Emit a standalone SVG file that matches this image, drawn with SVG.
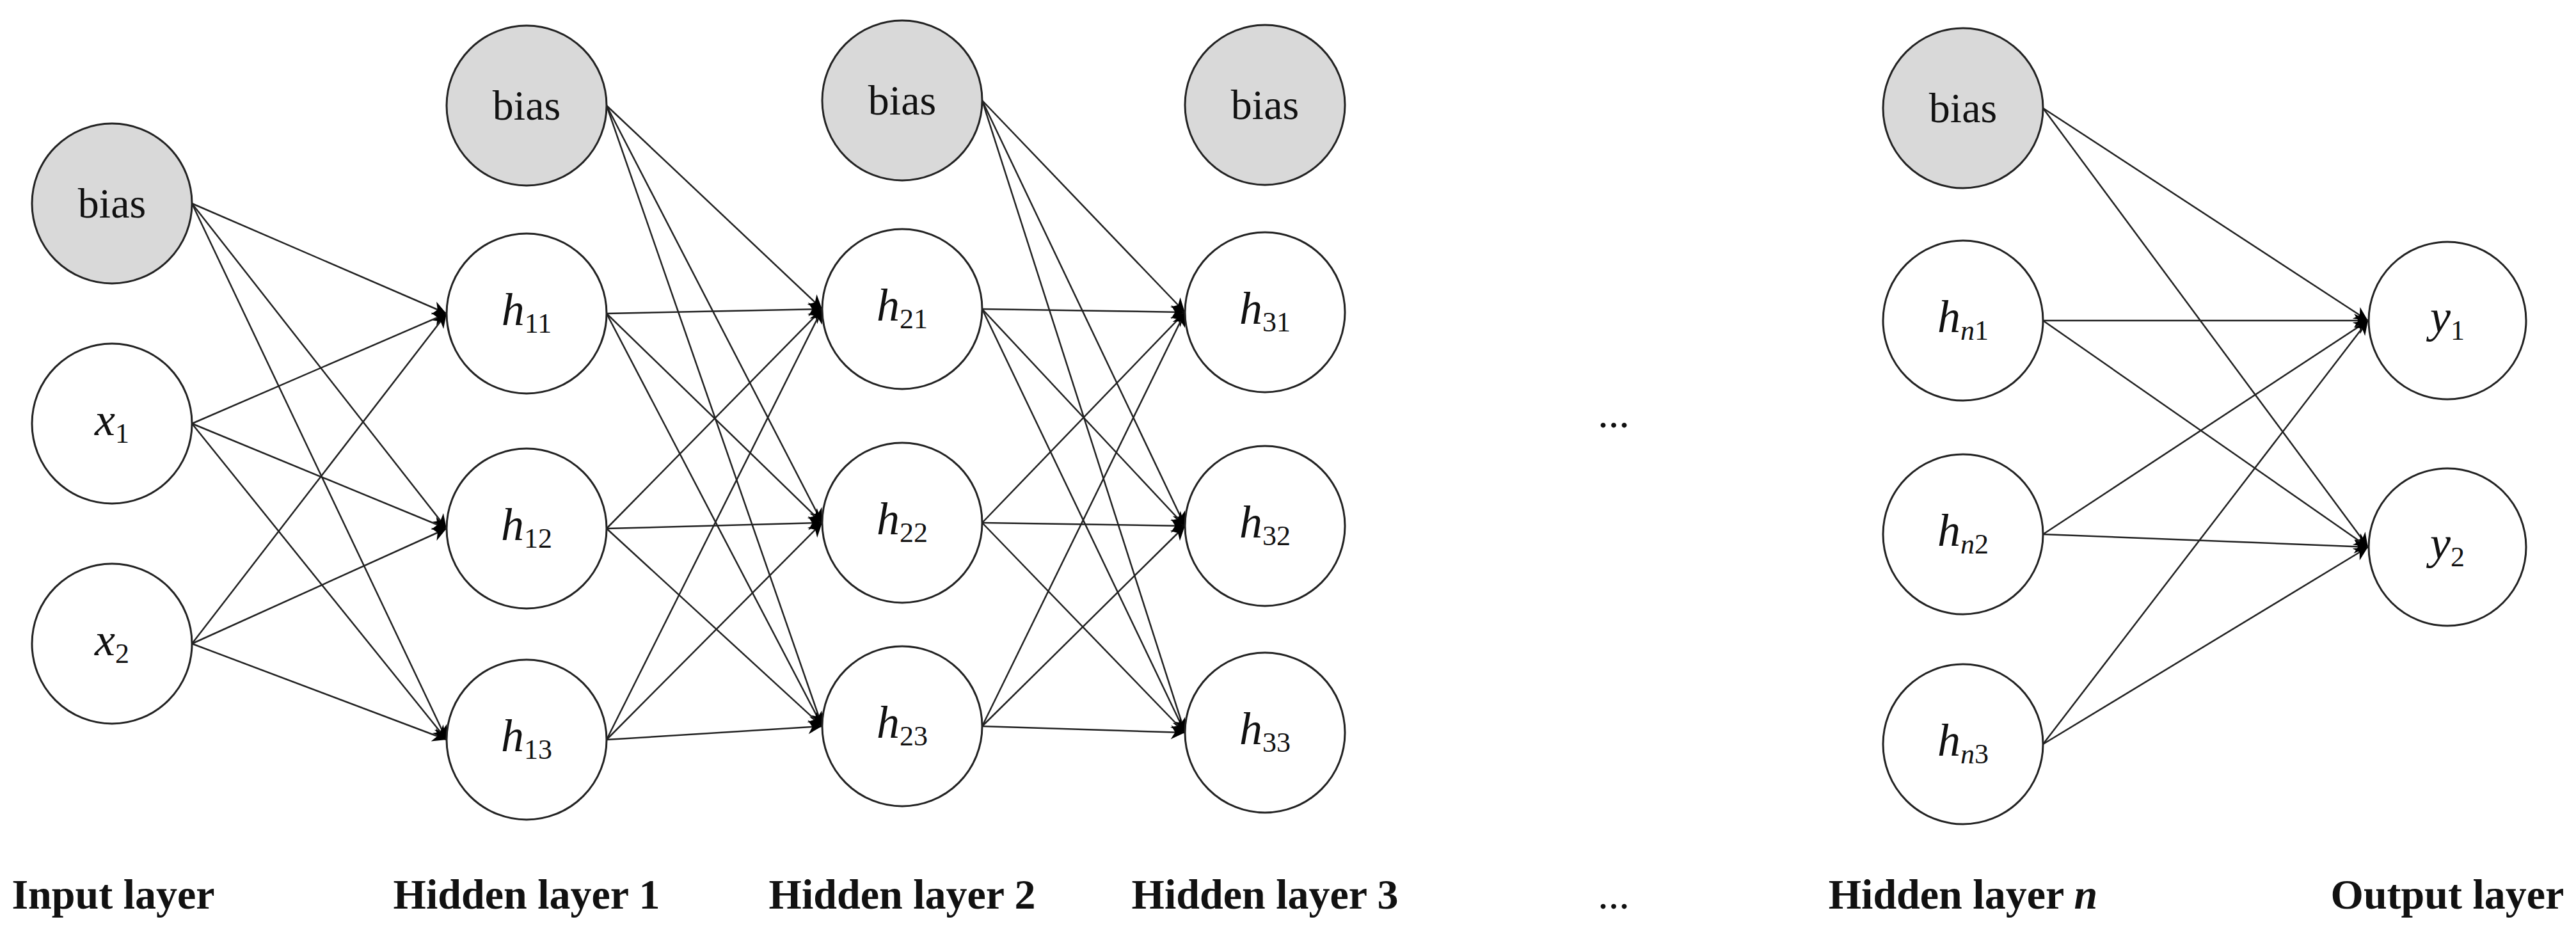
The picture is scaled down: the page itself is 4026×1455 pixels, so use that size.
<svg xmlns="http://www.w3.org/2000/svg" width="4026" height="1455" viewBox="0 0 4026 1455">
<style>
.n{fill:#fff;stroke:#222;stroke-width:3}
.b{fill:#d9d9d9;stroke:#222;stroke-width:3}
.t{font-family:"Liberation Serif",serif;font-size:66px;fill:#111;text-anchor:middle}
.m{font-family:"Liberation Serif",serif;font-style:italic;font-size:72px;fill:#111;text-anchor:middle}
.s{font-size:44px;font-style:normal}
.si{font-size:44px}
.l{font-family:"Liberation Serif",serif;font-weight:bold;font-size:66px;fill:#111;text-anchor:middle}
#edges line{stroke:#222;stroke-width:2.5;marker-end:url(#ah)}
</style>
<defs>
<marker id="ah" viewBox="0 0 10 10" refX="10" refY="5" markerWidth="9" markerHeight="9" markerUnits="userSpaceOnUse" orient="auto" overflow="visible">
<path d="M0,0 L10,5 L0,10 L3,5 Z" fill="#000" transform="scale(2.4) translate(-6,-2.9)"/>
</marker>
</defs>
<rect width="4026" height="1455" fill="#fff"/>
<g id="edges">
<!-- input -> H1 -->
<line x1="300" y1="318" x2="698" y2="490"/><line x1="300" y1="318" x2="698" y2="826"/><line x1="300" y1="318" x2="698" y2="1156"/>
<line x1="300" y1="662" x2="698" y2="490"/><line x1="300" y1="662" x2="698" y2="826"/><line x1="300" y1="662" x2="698" y2="1156"/>
<line x1="300" y1="1006" x2="698" y2="490"/><line x1="300" y1="1006" x2="698" y2="826"/><line x1="300" y1="1006" x2="698" y2="1156"/>
<!-- H1 -> H2 -->
<line x1="948" y1="165" x2="1285" y2="483"/><line x1="948" y1="165" x2="1285" y2="817"/><line x1="948" y1="165" x2="1285" y2="1135"/>
<line x1="948" y1="490" x2="1285" y2="483"/><line x1="948" y1="490" x2="1285" y2="817"/><line x1="948" y1="490" x2="1285" y2="1135"/>
<line x1="948" y1="826" x2="1285" y2="483"/><line x1="948" y1="826" x2="1285" y2="817"/><line x1="948" y1="826" x2="1285" y2="1135"/>
<line x1="948" y1="1156" x2="1285" y2="483"/><line x1="948" y1="1156" x2="1285" y2="817"/><line x1="948" y1="1156" x2="1285" y2="1135"/>
<!-- H2 -> H3 -->
<line x1="1535" y1="157" x2="1852" y2="488"/><line x1="1535" y1="157" x2="1852" y2="822"/><line x1="1535" y1="157" x2="1852" y2="1145"/>
<line x1="1535" y1="483" x2="1852" y2="488"/><line x1="1535" y1="483" x2="1852" y2="822"/><line x1="1535" y1="483" x2="1852" y2="1145"/>
<line x1="1535" y1="817" x2="1852" y2="488"/><line x1="1535" y1="817" x2="1852" y2="822"/><line x1="1535" y1="817" x2="1852" y2="1145"/>
<line x1="1535" y1="1135" x2="1852" y2="488"/><line x1="1535" y1="1135" x2="1852" y2="822"/><line x1="1535" y1="1135" x2="1852" y2="1145"/>
<!-- Hn -> output -->
<line x1="3193" y1="169" x2="3701" y2="501"/><line x1="3193" y1="169" x2="3701" y2="855"/>
<line x1="3193" y1="501" x2="3701" y2="501"/><line x1="3193" y1="501" x2="3701" y2="855"/>
<line x1="3193" y1="835" x2="3701" y2="501"/><line x1="3193" y1="835" x2="3701" y2="855"/>
<line x1="3193" y1="1163" x2="3701" y2="501"/><line x1="3193" y1="1163" x2="3701" y2="855"/>
</g>
<g id="input-bias"><circle class="b" cx="175" cy="318" r="125"/><text class="t" x="175" y="340">bias</text></g>
<g id="x1"><circle class="n" cx="175" cy="662" r="125"/><text class="m" x="175" y="680">x<tspan class="s" dy="12">1</tspan></text></g>
<g id="x2"><circle class="n" cx="175" cy="1006" r="125"/><text class="m" x="175" y="1024">x<tspan class="s" dy="12">2</tspan></text></g>
<g id="bias1"><circle class="b" cx="823" cy="165" r="125"/><text class="t" x="823" y="187">bias</text></g>
<g id="h11"><circle class="n" cx="823" cy="490" r="125"/><text class="m" x="823" y="508">h<tspan class="s" dy="12">11</tspan></text></g>
<g id="h12"><circle class="n" cx="823" cy="826" r="125"/><text class="m" x="823" y="844">h<tspan class="s" dy="12">12</tspan></text></g>
<g id="h13"><circle class="n" cx="823" cy="1156" r="125"/><text class="m" x="823" y="1174">h<tspan class="s" dy="12">13</tspan></text></g>
<g id="bias2"><circle class="b" cx="1410" cy="157" r="125"/><text class="t" x="1410" y="179">bias</text></g>
<g id="h21"><circle class="n" cx="1410" cy="483" r="125"/><text class="m" x="1410" y="501">h<tspan class="s" dy="12">21</tspan></text></g>
<g id="h22"><circle class="n" cx="1410" cy="817" r="125"/><text class="m" x="1410" y="835">h<tspan class="s" dy="12">22</tspan></text></g>
<g id="h23"><circle class="n" cx="1410" cy="1135" r="125"/><text class="m" x="1410" y="1153">h<tspan class="s" dy="12">23</tspan></text></g>
<g id="bias3"><circle class="b" cx="1977" cy="164" r="125"/><text class="t" x="1977" y="186">bias</text></g>
<g id="h31"><circle class="n" cx="1977" cy="488" r="125"/><text class="m" x="1977" y="506">h<tspan class="s" dy="12">31</tspan></text></g>
<g id="h32"><circle class="n" cx="1977" cy="822" r="125"/><text class="m" x="1977" y="840">h<tspan class="s" dy="12">32</tspan></text></g>
<g id="h33"><circle class="n" cx="1977" cy="1145" r="125"/><text class="m" x="1977" y="1163">h<tspan class="s" dy="12">33</tspan></text></g>
<g id="dots"><text class="t" x="2522" y="668">...</text></g>
<g id="biasn"><circle class="b" cx="3068" cy="169" r="125"/><text class="t" x="3068" y="191">bias</text></g>
<g id="hn1"><circle class="n" cx="3068" cy="501" r="125"/><text class="m" x="3068" y="519">h<tspan class="si" dy="12">n</tspan><tspan class="s">1</tspan></text></g>
<g id="hn2"><circle class="n" cx="3068" cy="835" r="125"/><text class="m" x="3068" y="853">h<tspan class="si" dy="12">n</tspan><tspan class="s">2</tspan></text></g>
<g id="hn3"><circle class="n" cx="3068" cy="1163" r="125"/><text class="m" x="3068" y="1181">h<tspan class="si" dy="12">n</tspan><tspan class="s">3</tspan></text></g>
<g id="y1"><circle class="n" cx="3825" cy="501" r="123"/><text class="m" x="3825" y="519">y<tspan class="s" dy="12">1</tspan></text></g>
<g id="y2"><circle class="n" cx="3825" cy="855" r="123"/><text class="m" x="3825" y="873">y<tspan class="s" dy="12">2</tspan></text></g>
<g id="labels">
<text class="l" x="177" y="1420">Input layer</text>
<text class="l" x="823" y="1420">Hidden layer 1</text>
<text class="l" x="1410" y="1420">Hidden layer 2</text>
<text class="l" x="1977" y="1420">Hidden layer 3</text>
<text class="t" x="2522" y="1420">...</text>
<text class="l" x="3068" y="1420">Hidden layer <tspan font-style="italic">n</tspan></text>
<text class="l" x="3825" y="1420">Output layer</text>
</g>
</svg>
